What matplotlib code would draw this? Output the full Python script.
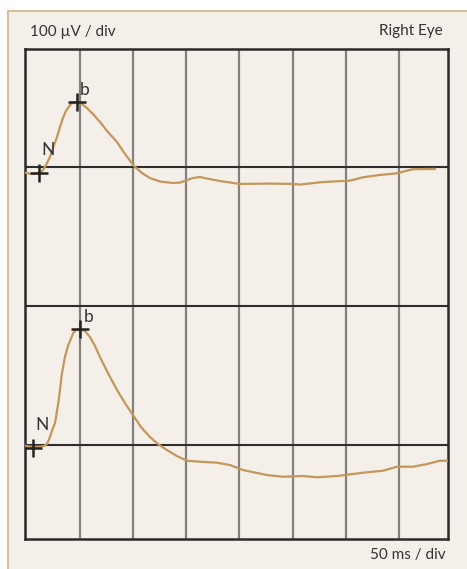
import matplotlib
matplotlib.use("Agg")
import matplotlib.pyplot as plt
from matplotlib.patches import Rectangle

# ---- data (time in ms, amplitude in µV) ----
top_t = [-1.7, 4.9, 8.0, 11.4, 15.2, 18.0, 21.8, 24.6, 28.4, 31.2, 34.0, 36.8, 40.6,
         43.4, 47.2, 51.9, 56.6, 62.2, 68.8, 76.3, 84.8, 92.3, 100.8, 108.3, 115.8,
         125.2, 137.5, 144.0, 150.6, 156.3, 162.8, 169.4, 181.7, 200.5, 228.7, 250.3,
         256.9, 278.5, 303.9, 316.1, 331.0, 347.0, 363.1, 383.8]
top_v = [-4.1, -5.0, -4.8, -4.3, -2.2, 1.4, 7.2, 13.7, 21.6, 28.8, 35.3, 40.3, 44.6,
         46.4, 46.8, 45.3, 42.4, 38.1, 32.4, 25.2, 18.0, 9.4, 0.7, -4.3, -7.9,
         -10.4, -11.5, -11.2, -9.4, -7.9, -7.2, -8.3, -10.1, -12.2, -11.9, -12.2,
         -12.6, -10.8, -9.8, -7.4, -5.8, -4.6, -1.6, -1.4]

bot_t = [-1.7, 5.8, 12.4, 16.1, 19.0, 21.8, 24.6, 26.5, 29.6, 31.2, 32.8, 35.9, 39.0,
         43.7, 46.2, 50.0, 54.7, 59.4, 64.1, 68.8, 76.3, 84.8, 92.3, 99.8, 107.4,
         115.8, 123.3, 131.8, 141.2, 150.6, 162.8, 178.8, 191.1, 203.3, 225.9, 240.9,
         259.7, 272.9, 291.7, 316.1, 334.9, 348.1, 363.1, 376.3, 388.5, 395.1]
bot_v = [-0.5, -1.4, -1.1, -0.7, 0.7, 5.8, 12.2, 15.8, 30.2, 39.6, 50.4, 63.5, 71.9,
         80.6, 82.7, 83.5, 82.0, 77.7, 71.2, 63.3, 51.8, 39.6, 30.2, 21.6, 12.9,
         5.8, 0.7, -3.6, -7.9, -11.3, -12.0, -12.7, -14.4, -18.0, -21.6, -22.8,
         -22.3, -23.2, -22.3, -19.9, -18.5, -15.6, -15.6, -13.7, -11.3, -11.3]

# marker points (t, v) for N and b
top_N = (11.4, -4.3)
top_b = (47.2, 46.8)
bot_N = (5.8, -2.2)
bot_b = (50.0, 83.5)

labels = ["N", "b"]
grid_t = [50, 100, 150, 200, 250, 300, 350]
grid_v = [0, -100, -200]
bottom_offset = -200

W, H = 467, 569
fig = plt.figure(figsize=(W / 100, H / 100), dpi=100)
fig.patch.set_facecolor("white")
plt.rcParams["font.family"] = ["Lato", "DejaVu Sans"]

# panel background with tan border on top and left
panel = Rectangle((7.5 / W, -0.02), 1.05, 1 - 10.5 / H + 0.02, transform=fig.transFigure,
                  facecolor="#f4f0e9", edgecolor="#d8bf98", linewidth=1.5, zorder=-10)
fig.add_artist(panel)

ax = fig.add_axes([25 / W, (H - 539) / H, (448 - 25) / W, (539 - 49) / H])
ax.set_zorder(5)
ax.set_facecolor("#f4f0e9")
ax.set_xlim(-1.7, 396.1)
ax.set_ylim(-267.6, 84.9)

for t in grid_t:
    ax.axvline(t, color="#858080", lw=1.6, zorder=1)
for v in grid_v:
    ax.axhline(v, color="#2e2e2e", lw=1.5, zorder=2)

for s in ax.spines.values():
    s.set_color("#2a2a2a")
    s.set_linewidth(1.8)
ax.set_xticks([])
ax.set_yticks([])

trace_c = "#c4965a"
ax.plot(top_t, top_v, color=trace_c, lw=1.6, zorder=3, solid_joinstyle="round")
ax.plot(bot_t, [v + bottom_offset for v in bot_v], color=trace_c, lw=1.6, zorder=3,
        solid_joinstyle="round")

mk = dict(marker="+", markersize=13, markeredgewidth=1.8, color="#222222", zorder=4,
          linestyle="none")
ax.plot(*top_N, **mk)
ax.plot(*top_b, **mk)
ax.plot(bot_N[0], bot_N[1] + bottom_offset, **mk)
ax.plot(bot_b[0], bot_b[1] + bottom_offset, **mk)

tk = dict(fontsize=12.5, color="#333333", ha="center", va="center", zorder=5)
ax.text(top_N[0] + 8.5, top_N[1] + 16.5, labels[0], **tk)
ax.text(top_b[0] + 7.5, top_b[1] + 8.6, labels[1], **tk)
ax.text(bot_N[0] + 8.5, bot_N[1] + 16.6 + bottom_offset, labels[0], **tk)
ax.text(bot_b[0] + 8.5, bot_b[1] + 8.6 + bottom_offset, labels[1], **tk)

fk = dict(fontsize=11, color="#333333", va="center")
fig.text(30 / W, 1 - 32 / H, "100 µV / div", ha="left", **fk)
fig.text(443 / W, 1 - 31 / H, "Right Eye", ha="right", **fk)
fig.text(446 / W, 1 - 555 / H, "50 ms / div", ha="right", **fk)

fig.savefig("out.png", dpi=100, facecolor=fig.get_facecolor())
